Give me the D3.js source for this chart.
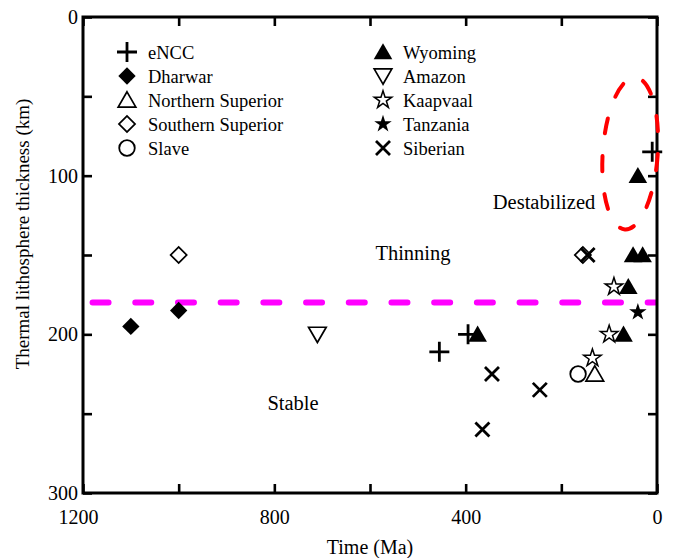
<!DOCTYPE html>
<html>
<head>
<meta charset="utf-8">
<script src="https://cdn.jsdelivr.net/npm/d3@7"></script>
<style>
  html, body { margin: 0; padding: 0; background: #fff; }
  svg { display: block; }
  text { font-family: "Liberation Serif", "Times New Roman", serif; fill: #000; }
</style>
</head>
<body>
<svg id="chart" width="675" height="558"></svg>
<script>
// Craton lithosphere thickness through time: [age (Ma), thermal thickness (km)]
const eNCC = [[10, 85], [455, 211], [395, 200]];
const dharwar = [[1100, 195], [1000, 185]];
const northernSuperior = [[130, 225]];
const southernSuperior = [[1000, 150], [155, 150]];
const slave = [[165, 225]];
const wyoming = [[40, 100], [50, 150], [30, 150], [60, 170], [70, 200], [375, 200]];
const amazon = [[710, 200]];
const kaapvaal = [[90, 170], [100, 200], [135, 215]];
const tanzania = [[40, 186]];
const siberian = [[145, 150], [345, 225], [245, 235], [365, 260]];

// Stability threshold (km) and axis ticks
const thresholdDepth = 180;
const xTicks = [1200, 1000, 800, 600, 400, 200, 0];
const xTickLabels = [1200, 800, 400, 0];
const yTicks = [0, 50, 100, 150, 200, 250, 300];
const yTickLabels = [0, 100, 200, 300];

// Legend entries in two columns
const legendLeft = ["eNCC", "Dharwar", "Northern Superior", "Southern Superior", "Slave"];
const legendRight = ["Wyoming", "Amazon", "Kaapvaal", "Tanzania", "Siberian"];

const svg = d3.select("#chart");
const W = 675, H = 558;
const margin = { top: 17, right: 18, bottom: 65, left: 83 };

const x = d3.scaleLinear().domain([1200, 0]).range([margin.left, W - margin.right]);
const y = d3.scaleLinear().domain([0, 300]).range([margin.top, H - margin.bottom]);

// Marker styles per group
const star = d3.symbol().type(d3.symbolStar).size(95)();
const tri = d3.symbol().type(d3.symbolTriangle).size(150)();
const triOpen = d3.symbol().type(d3.symbolTriangle).size(135)();
const sq = d3.symbol().type(d3.symbolSquare).size(150)();
const sqOpen = d3.symbol().type(d3.symbolSquare).size(130)();
const circ = d3.symbol().type(d3.symbolCircle).size(190)();

const styles = {
  "eNCC":              { d: "M-10,0H10M0,-10V10", fill: "none", sw: 2.8, rot: 0, dy: 0 },
  "Dharwar":           { d: sq, fill: "#000", sw: 0, rot: 45, dy: 0 },
  "Northern Superior": { d: triOpen, fill: "#fff", sw: 1.7, rot: 0, dy: 2 },
  "Southern Superior": { d: sqOpen, fill: "#fff", sw: 1.7, rot: 45, dy: 0 },
  "Slave":             { d: circ, fill: "#fff", sw: 1.8, rot: 0, dy: 0 },
  "Wyoming":           { d: tri, fill: "#000", sw: 0, rot: 0, dy: 2 },
  "Amazon":            { d: triOpen, fill: "#fff", sw: 1.7, rot: 180, dy: -2 },
  "Kaapvaal":          { d: star, fill: "#fff", sw: 1.5, rot: 0, dy: 0 },
  "Tanzania":          { d: star, fill: "#000", sw: 0, rot: 0, dy: 0 },
  "Siberian":          { d: "M-7,-7L7,7M-7,7L7,-7", fill: "none", sw: 2.8, rot: 0, dy: 0 }
};

const groups = [
  ["eNCC", eNCC], ["Dharwar", dharwar], ["Northern Superior", northernSuperior],
  ["Southern Superior", southernSuperior], ["Slave", slave], ["Wyoming", wyoming],
  ["Amazon", amazon], ["Kaapvaal", kaapvaal], ["Tanzania", tanzania], ["Siberian", siberian]
];

function drawMarker(sel, name) {
  const s = styles[name];
  sel.append("path")
    .attr("d", s.d)
    .attr("transform", `translate(0,${s.dy}) rotate(${s.rot})`)
    .attr("fill", s.fill)
    .attr("stroke", "#000")
    .attr("stroke-width", s.sw || 0)
    .attr("stroke-linejoin", "miter");
}

// Threshold line between thinning and stable lithosphere
svg.append("line")
  .attr("x1", x(1180)).attr("x2", x(0) - 2)
  .attr("y1", y(thresholdDepth)).attr("y2", y(thresholdDepth))
  .attr("stroke", "#ff00ff")
  .attr("stroke-width", 6)
  .attr("stroke-linecap", "round")
  .attr("stroke-dasharray", "16 26.7");

// Region annotations
svg.append("text").attr("x", 544).attr("y", 209).attr("text-anchor", "middle")
  .attr("font-size", 20.5).text("Destabilized");
svg.append("text").attr("x", 413).attr("y", 260).attr("text-anchor", "middle")
  .attr("font-size", 20.5).text("Thinning");
svg.append("text").attr("x", 293).attr("y", 410).attr("text-anchor", "middle")
  .attr("font-size", 20.5).text("Stable");

// Data markers
groups.forEach(([name, data]) => {
  const g = svg.append("g").attr("class", "series");
  data.forEach(([t, v]) => {
    const m = g.append("g").attr("transform", `translate(${x(t)},${y(v)})`);
    drawMarker(m, name);
  });
});

// Axes with inward ticks on all four sides
const fmtX = d => xTickLabels.includes(d) ? d : "";
const fmtY = d => yTickLabels.includes(d) ? d : "";

const gx = svg.append("g").attr("transform", `translate(0,${y(300)})`)
  .call(d3.axisBottom(x).tickValues(xTicks).tickFormat(fmtX).tickSizeInner(-9).tickSizeOuter(0).tickPadding(17));
const gxTop = svg.append("g").attr("transform", `translate(0,${y(0)})`)
  .call(d3.axisTop(x).tickValues(xTicks).tickFormat("").tickSizeInner(-9).tickSizeOuter(0));
const gy = svg.append("g").attr("transform", `translate(${x(1200)},0)`)
  .call(d3.axisLeft(y).tickValues(yTicks).tickFormat(fmtY).tickSizeInner(-9).tickSizeOuter(0).tickPadding(5));
const gyRight = svg.append("g").attr("transform", `translate(${x(0)},0)`)
  .call(d3.axisRight(y).tickValues(yTicks).tickFormat("").tickSizeInner(-9).tickSizeOuter(0));

[gx, gxTop, gy, gyRight].forEach(g => {
  g.select(".domain").remove();
  g.selectAll(".tick line").attr("stroke", "#000").attr("stroke-width", 2.6);
  g.selectAll(".tick text")
    .attr("font-family", "Liberation Serif, Times New Roman, serif")
    .attr("font-size", 20).attr("fill", "#000");
});
// The corner label sits a little left so it clears the y-axis labels
gx.selectAll(".tick text").filter(d => d === 1200).attr("dx", -5);

// Plot frame
svg.append("rect")
  .attr("x", x(1200)).attr("y", y(0))
  .attr("width", x(0) - x(1200)).attr("height", y(300) - y(0))
  .attr("fill", "none").attr("stroke", "#000").attr("stroke-width", 3);

// Axis titles
svg.append("text").attr("x", (x(1200) + x(0)) / 2).attr("y", 554)
  .attr("text-anchor", "middle").attr("font-size", 20).text("Time (Ma)");
svg.append("text")
  .attr("transform", "translate(29,234) rotate(-90)")
  .attr("text-anchor", "middle").attr("font-size", 19)
  .text("Thermal lithosphere thickness (km)");

// Legend
const rowY = [52, 76, 100, 124, 148];
function legendColumn(names, symX, textX) {
  names.forEach((name, i) => {
    const m = svg.append("g").attr("transform", `translate(${symX},${rowY[i]})`);
    drawMarker(m, name);
    svg.append("text").attr("x", textX).attr("y", rowY[i] + 6.5)
      .attr("font-size", 18.5).text(name);
  });
}
legendColumn(legendLeft, 127, 148);
legendColumn(legendRight, 383, 403);

// Outline of the destabilized group
const ell = { t: 56, v: 86, rt: 57.5, rv: 48, angle: 4 };
svg.append("ellipse")
  .attr("cx", 0).attr("cy", 0)
  .attr("rx", x(0) - x(ell.rt))
  .attr("ry", y(ell.rv) - y(0))
  .attr("transform", `translate(${x(ell.t)},${y(ell.v)}) rotate(${ell.angle})`)
  .attr("fill", "none")
  .attr("stroke", "#ff0000")
  .attr("stroke-width", 4)
  .attr("stroke-linecap", "round")
  .attr("stroke-dasharray", "15 23");
</script>
</body>
</html>
